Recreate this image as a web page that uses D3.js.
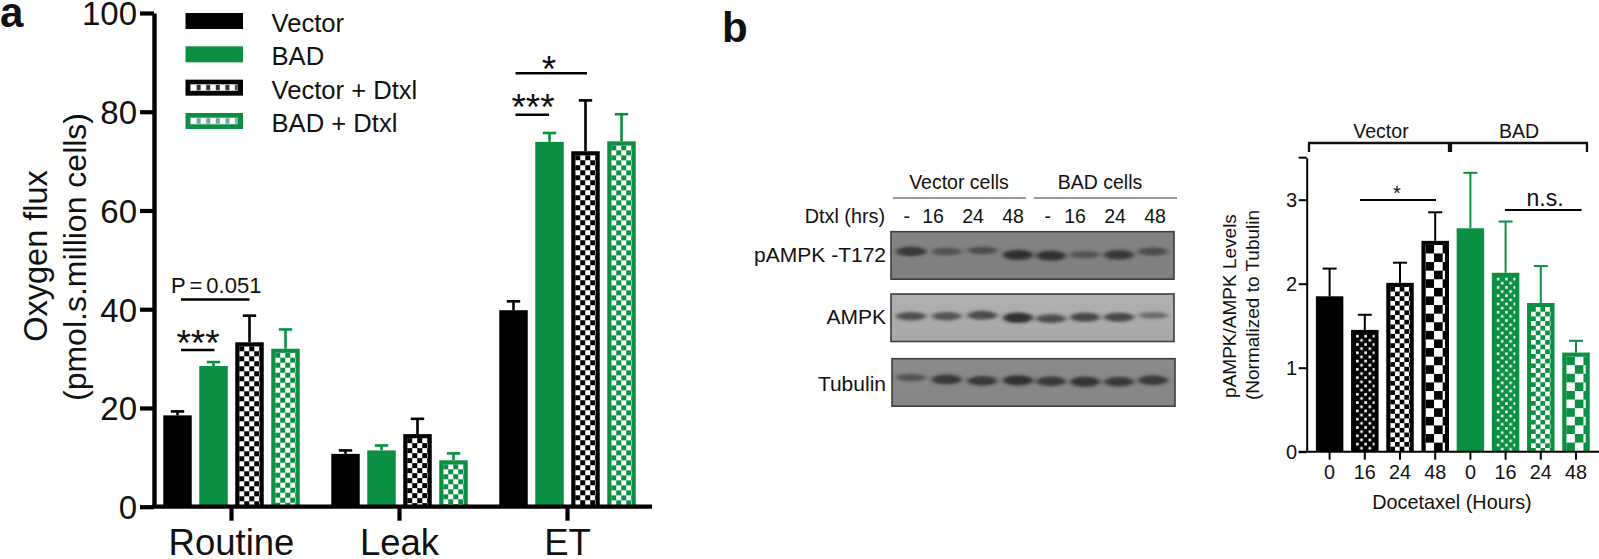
<!DOCTYPE html>
<html><head><meta charset="utf-8">
<script src="https://cdn.jsdelivr.net/npm/d3@7"></script>
<style>
html,body{margin:0;padding:0;background:#fff}
svg{display:block}
text{font-family:"Liberation Sans",Arial,sans-serif;fill:#111}
</style></head><body><svg id="c" width="1599" height="559"></svg>
<script>
// Panel a data
const groupsA = ["Routine","Leak","ET"];
const seriesA = ["Vector","BAD","Vector + Dtxl","BAD + Dtxl"];
const routineMean = [18.5,28.5,33.3,32.0];
const routineTop  = [19.3,29.3,38.7,35.9];
const leakMean    = [10.7,11.4,14.7,9.4];
const leakTop     = [11.4,12.4,17.8,10.8];
const etMean      = [39.8,73.9,72.0,74.0];
const etTop       = [41.6,75.7,82.3,79.5];
const ticksA = [0,20,40,60,80,100];
// Panel b chart data
const hoursB = ["0","16","24","48","0","16","24","48"];
const meanB = [1.85,1.45,2.01,2.51,2.66,2.13,1.77,1.18];
const topB  = [2.18,1.63,2.25,2.85,3.32,2.74,2.21,1.32];
const fillB = ["solid","dots","fine","large","solid","dots","fine","large"];
const colorB= ["k","k","k","k","g","g","g","g"];
const ticksB = [0,1,2,3];
// Blot data: band strength (0-1), migration (fraction of panel height)
const blotNames = ["pAMPK -T172","AMPK","Tubulin"];
const lanesV = ["-","16","24","48"];
const blotStrength = [
 [.8,.42,.48,.92,.9,.38,.8,.5],
 [.62,.58,.68,.95,.65,.72,.72,.32],
 [.42,.82,.8,.92,.8,.88,.8,.8]];
const blotMigration = [
 [.49,.49,.47,.56,.58,.56,.56,.49],
 [.5,.5,.48,.53,.55,.52,.52,.48],
 [.46,.5,.53,.52,.54,.55,.55,.52]];
const blotGray = ["#7f7f7f","#aaaaaa","#868686"];

const GREEN="#0b8f43", BLACK="#000";
const svg=d3.select("#c"), defs=svg.append("defs");

function patt(id,x,y,col,kind){
  const size={check:10,fine:9.4,large:17.2,dots:8.3}[kind];
  const p=defs.append("pattern").attr("id",id).attr("patternUnits","userSpaceOnUse")
    .attr("x",x).attr("y",y).attr("width",size).attr("height",size);
  p.append("rect").attr("width",size).attr("height",size).attr("fill",kind==="dots"?col:"#fff");
  if(kind==="dots"){
    [[1,1],[5.15,5.15]].forEach(d=>p.append("rect").attr("x",d[0]).attr("y",d[1]).attr("width",2.6).attr("height",2.6).attr("fill","#fff"));
  } else {
    const h=size/2;
    [[0,0],[h,h]].forEach(d=>p.append("rect").attr("x",d[0]).attr("y",d[1]).attr("width",h).attr("height",h).attr("fill",col));
  }
  return `url(#${id})`;
}
function txt(g,x,y,s,size,anchor,extra){
  const t=g.append("text").attr("x",x).attr("y",y).attr("font-size",size).attr("text-anchor",anchor||"start").text(s);
  if(extra)extra(t);return t;
}
function vtxt(g,x,y,s,size){
  return g.append("text").attr("transform",`translate(${x},${y}) rotate(-90)`).attr("font-size",size).attr("text-anchor","middle").text(s);
}
function hl(g,x1,x2,y,w,col){g.append("line").attr("x1",x1).attr("x2",x2).attr("y1",y).attr("y2",y).attr("stroke",col||"#000").attr("stroke-width",w);}

/* ---------- Panel a ---------- */
const a=svg.append("g");
const yA=d3.scaleLinear().domain([0,100]).range([506.7,13]);
const xA=d3.scaleBand().domain(groupsA).range([147.5,651.5]);
const xInner=d3.scaleBand().domain(seriesA).range([-72,72]).paddingInner(.2083).paddingOuter(.1042);
const rowsA=[routineMean,leakMean,etMean], topsA=[routineTop,leakTop,etTop];
const colA=s=>s.startsWith("BAD")?GREEN:BLACK;

groupsA.forEach((g,gi)=>{
  const cx=xA(g)+xA.bandwidth()/2;
  seriesA.forEach((s,si)=>{
    const x=cx+xInner(s), w=xInner.bandwidth(), v=rowsA[gi][si], t=topsA[gi][si], c=colA(s), mid=x+w/2;
    a.append("line").attr("x1",mid).attr("x2",mid).attr("y1",yA(v)).attr("y2",yA(t)).attr("stroke",c).attr("stroke-width",2.6);
    a.append("line").attr("x1",mid-6.7).attr("x2",mid+6.7).attr("y1",yA(t)).attr("y2",yA(t)).attr("stroke",c).attr("stroke-width",2.6);
    a.append("rect").attr("x",x).attr("y",yA(v)).attr("width",w).attr("height",yA(0)-yA(v)).attr("fill",c);
    if(si>=2){
      const id=`pa${gi}${si}`, f=patt(id,x+4,yA(v)+4,c,"check");
      a.append("rect").attr("x",x+4).attr("y",yA(v)+4).attr("width",w-8).attr("height",yA(0)-yA(v)-4).attr("fill",f);
    }
  });
});
const axL=a.append("g").attr("transform","translate(154,0)").call(d3.axisLeft(yA).tickValues(ticksA).tickSize(14).tickSizeOuter(0).tickPadding(3));
axL.select(".domain").attr("stroke","#000").attr("stroke-width",4.4);
axL.selectAll(".tick line").attr("stroke","#000").attr("stroke-width",4.2);
axL.selectAll(".tick text").attr("font-size",33).attr("font-family","Liberation Sans").attr("fill","#111").attr("dy",".36em");
const axB=a.append("g").attr("transform","translate(0,506.7)").call(d3.axisBottom(xA).tickSize(14).tickSizeOuter(0).tickPadding(8));
axB.select(".domain").remove();
axB.selectAll(".tick line").attr("stroke","#000").attr("stroke-width",4.2);
axB.selectAll(".tick text").attr("font-size",36.5).attr("font-family","Liberation Sans").attr("fill","#111");
hl(a,152,652,yA(0),4.2);
vtxt(a,47,256,"Oxygen flux",32.5);
vtxt(a,86,257,"(pmol.s.million cells)",32);
txt(a,0,27,"a",42,"start",t=>t.attr("font-weight","bold").attr("fill","#000"));

// legend
const legY=d3.scalePoint().domain(seriesA).range([21,121]);
seriesA.forEach((s,i)=>{
  const yc=legY(s), c=colA(s);
  a.append("rect").attr("x",185.5).attr("y",yc-8).attr("width",57.5).attr("height",16).attr("fill",c);
  if(i>=2){
    const id=`leg${i}`;
    const p=defs.append("pattern").attr("id",id).attr("patternUnits","userSpaceOnUse").attr("x",191).attr("y",yc-3).attr("width",9.6).attr("height",6);
    p.append("rect").attr("width",9.6).attr("height",6).attr("fill","#fff");
    p.append("rect").attr("x",5.6).attr("width",4).attr("height",6).attr("fill",c==BLACK?"#333":"#6aa");
    a.append("rect").attr("x",190.7).attr("y",yc-3).attr("width",46.5).attr("height",6).attr("fill",`url(#${id})`).attr("stroke","#ddd").attr("stroke-width",.7);
  }
  txt(a,271.5,yc+11,s,25.6);
});
// significance
txt(a,171,293,"P = 0.051",22,"start",t=>t.attr("word-spacing",-2));
hl(a,181,249.5,299.5,2.4);
txt(a,198,356,"***",37,"middle");
hl(a,181,214.5,350,2.4);
txt(a,549,82,"*",37,"middle");
hl(a,515.5,587,73.3,2.4);
txt(a,533,120,"***",37,"middle");
hl(a,515.5,549,114.7,2.4);

/* ---------- Blots ---------- */
const b=svg.append("g");
txt(b,722,42,"b",42,"start",t=>t.attr("font-weight","bold").attr("fill","#000"));
const blur=defs.append("filter").attr("id","bandBlur").attr("x","-30%").attr("y","-80%").attr("width","160%").attr("height","260%");
blur.append("feGaussianBlur").attr("stdDeviation","2.6 1.6");
const laneV=d3.scalePoint().domain(d3.range(4)).range([911,1018]);
const laneB=d3.scalePoint().domain(d3.range(4)).range([1051,1153]);
const labV=d3.scalePoint().domain(lanesV.slice(1)).range([933,1013]);
const labB=d3.scalePoint().domain(lanesV.slice(1)).range([1075,1155]);
blotNames.forEach((n,bi)=>{
  const y0=[231.7,294,358.7][bi], h=47.5, x0=bi===2?892:891;
  const gid=`bg${bi}`;
  const lg=defs.append("linearGradient").attr("id",gid).attr("x1",0).attr("x2",0).attr("y1",0).attr("y2",1);
  lg.append("stop").attr("offset",0).attr("stop-color",d3.color(blotGray[bi]).brighter(.1));
  lg.append("stop").attr("offset",1).attr("stop-color",d3.color(blotGray[bi]).darker(.02));
  b.append("rect").attr("x",x0).attr("y",y0).attr("width",283).attr("height",h).attr("fill",`url(#${gid})`).attr("stroke","#3c3c3c").attr("stroke-width",1.6);
  const cp=`clipB${bi}`;
  defs.append("clipPath").attr("id",cp).append("rect").attr("x",x0).attr("y",y0).attr("width",283).attr("height",h);
  const gg=b.append("g").attr("clip-path",`url(#${cp})`);
  blotStrength[bi].forEach((s,i)=>{
    const cx=i<4?laneV(i):laneB(i-4);
    gg.append("ellipse").attr("cx",cx).attr("cy",y0+h*blotMigration[bi][i]-(bi==0?3.5:bi==1?1.5:3))
      .attr("rx",15).attr("ry",2.4+3*s).attr("fill","#262626").attr("opacity",.25+.7*s).attr("filter","url(#bandBlur)");
  });
  txt(b,886,[261.7,324,390.7][bi],n,21,"end");
});
txt(b,885,223,"Dtxl (hrs)",19.8,"end");
[["-",906.7,1047.7]].forEach(d=>{txt(b,d[1],223,d[0],19.5,"middle");txt(b,d[2],223,d[0],19.5,"middle");});
lanesV.slice(1).forEach(l=>{txt(b,labV(l),223,l,19.5,"middle");txt(b,labB(l),223,l,19.5,"middle");});
txt(b,959,189,"Vector cells",19.5,"middle");
txt(b,1100,189,"BAD cells",19.5,"middle");
hl(b,893,1026,198,1.2,"#333");
hl(b,1034,1177,198,1.2,"#333");

/* ---------- Panel b chart ---------- */
const c=svg.append("g");
const yB=d3.scaleLinear().domain([0,3.5]).range([451.7,157.7]);
const xB=d3.scaleBand().domain(d3.range(8)).range([1312,1593.6]).paddingInner(.219).paddingOuter(.11);
meanB.forEach((v,i)=>{
  const x=xB(i), w=xB.bandwidth(), col=colorB[i]==="k"?BLACK:GREEN, mid=x+w/2, t=topB[i];
  c.append("line").attr("x1",mid).attr("x2",mid).attr("y1",yB(v)).attr("y2",yB(t)).attr("stroke",col).attr("stroke-width",2);
  c.append("line").attr("x1",mid-7).attr("x2",mid+7).attr("y1",yB(t)).attr("y2",yB(t)).attr("stroke",col).attr("stroke-width",2);
  c.append("rect").attr("x",x).attr("y",yB(v)).attr("width",w).attr("height",yB(0)-yB(v)).attr("fill",col);
  if(fillB[i]!=="solid"){
    const inset=4, f=patt(`pb${i}`,x+inset,yB(v)+inset,col,fillB[i]);
    c.append("rect").attr("x",x+inset).attr("y",yB(v)+inset).attr("width",w-2*inset).attr("height",yB(0)-yB(v)-inset).attr("fill",f);
  }
});
const ayB=c.append("g").attr("transform","translate(1306.7,0)").call(d3.axisLeft(yB).tickValues(ticksB).tickFormat(d3.format("d")).tickSize(8).tickSizeOuter(0).tickPadding(1.5));
ayB.select(".domain").attr("stroke","#000").attr("stroke-width",2);
ayB.selectAll(".tick line").attr("stroke","#000").attr("stroke-width",2);
ayB.selectAll(".tick text").attr("font-size",20).attr("font-family","Liberation Sans").attr("fill","#111");
hl(c,1298.7,1306.7,yB(3.5),2);
const axbB=c.append("g").attr("transform","translate(0,451.7)").call(d3.axisBottom(xB).tickFormat(i=>hoursB[i]).tickSize(8).tickSizeOuter(0).tickPadding(5));
axbB.select(".domain").remove();
axbB.selectAll(".tick line").attr("stroke","#000").attr("stroke-width",2);
axbB.selectAll(".tick text").attr("font-size",19.8).attr("font-family","Liberation Sans").attr("fill","#111");
hl(c,1298.7,1599,yB(0),2);
txt(c,1452,509,"Docetaxel (Hours)",19.8,"middle");
vtxt(c,1236,306,"pAMPK/AMPK Levels",19);
vtxt(c,1259,305,"(Normalized to Tubulin",19);
// brackets
[[1309,1449,"Vector",1381],[1451,1587,"BAD",1519]].forEach(d=>{
  c.append("path").attr("d",`M${d[0]},152V143H${d[1]}V152`).attr("fill","none").attr("stroke","#111").attr("stroke-width",2.3);
  txt(c,d[3],137.7,d[2],19.5,"middle");
});
hl(c,1360,1436,200,2);
txt(c,1397,200,"*",20,"middle");
hl(c,1505,1581.5,210,2);
txt(c,1545,206,"n.s.",23,"middle");
</script></body></html>
